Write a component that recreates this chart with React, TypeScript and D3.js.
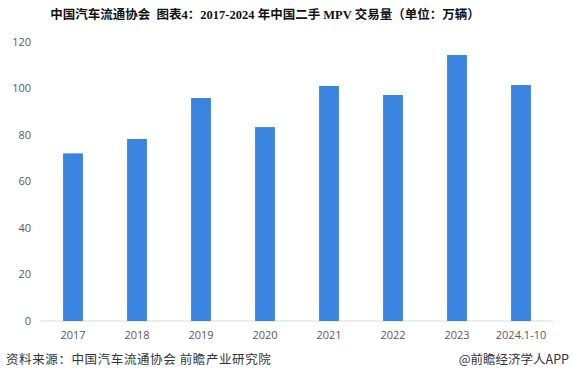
import React from "react";
import * as d3 from "d3";

const categories = ["2017", "2018", "2019", "2020", "2021", "2022", "2023", "2024.1-10"];
const values = [72.1, 78.3, 95.9, 83.4, 101.1, 97.2, 114.4, 101.5];
const yTicks = [0, 20, 40, 60, 80, 100, 120];

const W = 574;
const H = 372;
const M = { left: 41, right: 21, top: 42, bottom: 51 };

export default function App() {
  const x = d3
    .scaleBand<string>()
    .domain(categories)
    .range([M.left, W - M.right])
    .paddingInner(0.69)
    .paddingOuter(0.345);
  const y = d3.scaleLinear().domain([0, 120]).range([H - M.bottom, M.top]);

  return (
    <svg width={W} height={H} style={{ position: "absolute", left: 0, top: 0, background: "#fff" }}>
      <text
        x={265}
        y={19}
        textAnchor="middle"
        fontFamily="'Liberation Serif', 'Noto Sans CJK SC', serif"
        fontWeight="bold"
        fontSize={12.5}
        fill="#111"
      >
        {"中国汽车流通协会\u00a0\u00a0图表4：2017-2024 年中国二手 MPV 交易量（单位：万辆）"}
      </text>
      {yTicks.map((t) => (
        <text
          key={t}
          x={31}
          y={y(t)}
          dy="0.35em"
          textAnchor="end"
          fontFamily="'Open Sans', 'Noto Sans', sans-serif"
          fontSize={11}
          fill="#595959"
        >
          {t}
        </text>
      ))}
      <line x1={M.left} x2={W - M.right} y1={y(0)} y2={y(0)} stroke="#d9d9d9" strokeWidth={1} />
      {categories.map((c, i) => (
        <rect
          key={c}
          x={x(c)}
          y={y(values[i])}
          width={x.bandwidth()}
          height={y(0) - y(values[i])}
          fill="#3A84E0"
        />
      ))}
      {categories.map((c) => (
        <text
          key={c}
          x={(x(c) as number) + x.bandwidth() / 2}
          y={y(0) + 14}
          dy="0.35em"
          textAnchor="middle"
          fontFamily="'Open Sans', 'Noto Sans', sans-serif"
          fontSize={11}
          fill="#595959"
        >
          {c}
        </text>
      ))}
      <text
        x={6}
        y={364}
        fontFamily="'Noto Sans CJK SC', sans-serif"
        fontSize={12.5}
        letterSpacing={0.6}
        fill="#333"
      >
        资料来源：中国汽车流通协会 前瞻产业研究院
      </text>
      <text
        x={569}
        y={364}
        textAnchor="end"
        fontFamily="'Noto Sans CJK SC', sans-serif"
        fontSize={12.5}
        fill="#333"
      >
        @前瞻经济学人APP
      </text>
    </svg>
  );
}
